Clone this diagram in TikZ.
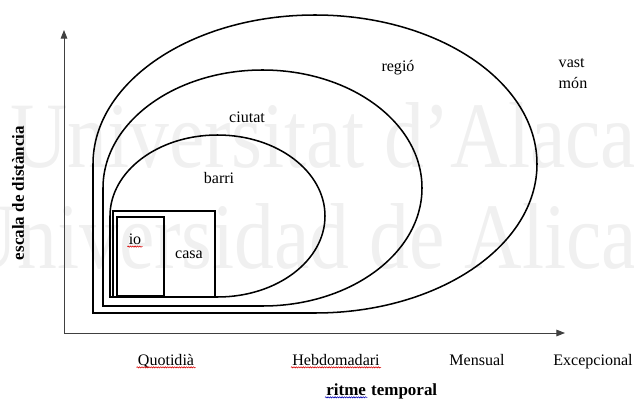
\documentclass[tikz,border=0pt]{standalone}
\usepackage{fontspec}
\setmainfont{Liberation Serif}
\usetikzlibrary{arrows.meta,decorations.pathmorphing}

\begin{document}
\begin{tikzpicture}[
    zone/.style={line width=1.3pt},
    axis/.style={line width=0.8pt, black!75, -{Triangle[length=2.6mm, width=2mm]}},
    lbl/.style={font=\fontsize{13.7}{18}\selectfont, inner sep=1pt},
    boldlbl/.style={font=\fontsize{14.5}{17}\selectfont\bfseries, inner sep=1pt},
    squiggle/.style={red!85!black, line width=0.5pt, decorate,
        decoration={snake, amplitude=0.5pt, segment length=2pt}},
    watermark/.style={font=\fontsize{80}{80}\selectfont, black!6, xscale=0.85, inner sep=0pt, anchor=base west}
]
    \useasboundingbox (0,0) rectangle (19.02,12);

    % Watermark
    \begin{scope}
        \clip (0,0) rectangle (19.02,12);
        \node[watermark] (wm1) at (0.3,6.96) {Universitat d’Alacant};
        \node[watermark] (wm2) at (-1.2,3.96) {Universidad de Alicante};
    \end{scope}

    % Axes
    \coordinate (origin) at (1.92,2.01);
    \coordinate (ytop) at (1.92,11.1);
    \coordinate (xend) at (16.95,2.01);
    \draw[axis] (origin) -- (ytop);
    \draw[axis] (origin) -- (xend);

    % Zones
    \draw[zone] (2.79,2.61) -- (2.79,7.08) arc[start angle=180, end angle=-90, x radius=6.66, y radius=4.47] -- cycle;
    \draw[zone] (3.09,2.82) -- (3.09,6.36) arc[start angle=180, end angle=-90, x radius=4.785, y radius=3.54] -- cycle;
    \draw[zone] (3.30,3.09) -- (3.30,5.52) arc[start angle=180, end angle=-90, x radius=3.225, y radius=2.43] -- cycle;

    % House and self
    \draw[zone] (3.39,3.09) rectangle (6.45,5.67);
    \draw[zone] (3.51,3.12) rectangle (4.92,5.49);

    % Zone labels
    \node[lbl] (mon) at (17.19,9.78) [align=left] {vast\\món};
    \node[lbl] (regio) at (11.94,9.96) {regió};
    \node[lbl] (ciutat) at (7.41,8.49) {ciutat};
    \node[lbl] (barri) at (6.57,6.66) {barri};
    \node[lbl] (jo) at (4.05,4.83) {io};
    \node[lbl] (casa) at (5.67,4.35) {casa};

    % Time axis labels
    \node[lbl, anchor=base] (quot) at (4.98,1.05) {Quotidià};
    \node[lbl, anchor=base] (hebdo) at (10.08,1.05) {Hebdomadari};
    \node[lbl, anchor=base] (mens) at (14.31,1.05) {Mensual};
    \node[lbl, anchor=base] (excep) at (17.79,1.05) {Excepcional};

    % Axis titles
    \node[boldlbl, anchor=base west] (ritme) at (9.75,0.15) {ritme};
    \node[boldlbl, anchor=base west] (tempo) at ([xshift=2pt]ritme.base east) {temporal};
    \node[boldlbl, rotate=90] (escala) at (0.54,6.21) {escala de distància};

    % Spell check marks
    \draw[squiggle] ([yshift=-2pt]jo.base west) -- ([yshift=-2pt]jo.base east);
    \draw[squiggle] ([yshift=-2pt]quot.base west) -- ([yshift=-2pt]quot.base east);
    \draw[squiggle] ([yshift=-2pt]hebdo.base west) -- ([yshift=-2pt]hebdo.base east);
    \draw[squiggle, blue!70!black] ([yshift=-2pt]ritme.base west) -- ([yshift=-2pt]ritme.base east);

\end{tikzpicture}
\end{document}
